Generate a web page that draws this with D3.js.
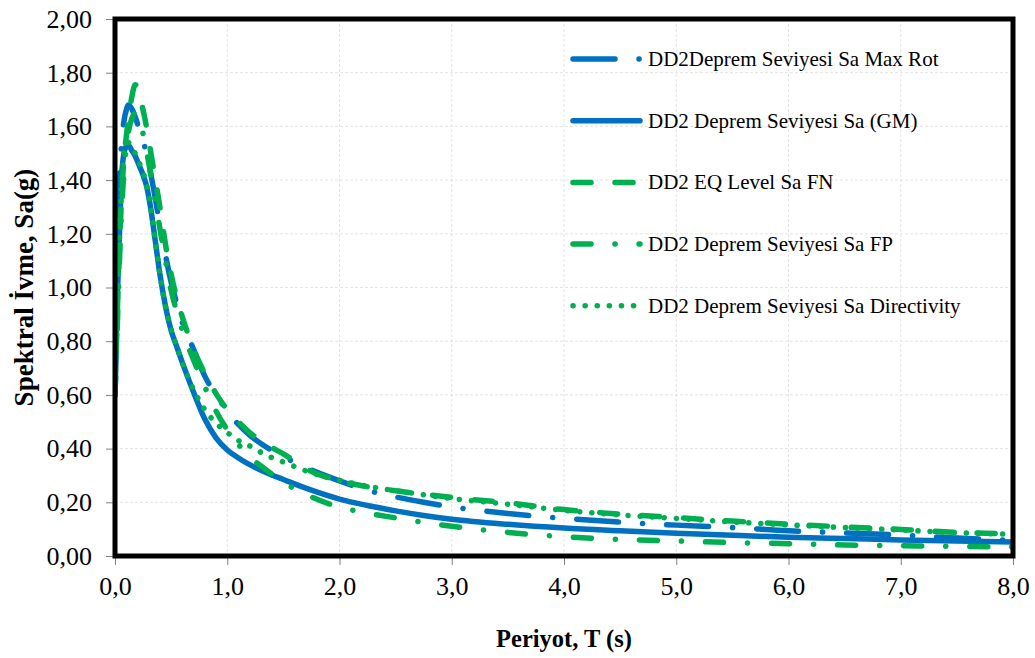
<!DOCTYPE html>
<html>
<head>
<meta charset="utf-8">
<script src="https://cdn.jsdelivr.net/npm/d3@7"></script>
<style>
  body { margin: 0; background: #fff; }
  svg { display: block; }
</style>
</head>
<body>
<svg id="chart" width="1035" height="658"></svg>
<script>
// period grid (s) shared by all five spectra
const periods = [0, 0.02, 0.04, 0.06, 0.08, 0.1, 0.12, 0.15, 0.18, 0.2, 0.24, 0.28, 0.32, 0.36, 0.4,
    0.45, 0.5, 0.55, 0.6, 0.7, 0.8, 0.9, 1.0, 1.1, 1.2, 1.35, 1.5, 1.75, 2.0, 2.25, 2.5, 2.75,
    3.0, 3.5, 4.0, 4.5, 5.0, 5.5, 6.0, 6.5, 7.0, 7.5, 8.0];

const saMaxRot = [0.60, 1.10, 1.38, 1.55, 1.62, 1.66, 1.68, 1.665, 1.635, 1.61, 1.56, 1.50, 1.42, 1.33, 1.23,
    1.12, 1.02, 0.94, 0.87, 0.77, 0.67, 0.60, 0.54, 0.49, 0.45, 0.405, 0.37, 0.32, 0.28, 0.245, 0.22, 0.20,
    0.183, 0.158, 0.14, 0.126, 0.115, 0.106, 0.094, 0.086, 0.078, 0.067, 0.058];

const saGM = [0.60, 0.95, 1.20, 1.42, 1.50, 1.525, 1.53, 1.51, 1.49, 1.47, 1.43, 1.38, 1.29, 1.17, 1.05,
    0.93, 0.84, 0.78, 0.72, 0.61, 0.51, 0.44, 0.395, 0.365, 0.34, 0.31, 0.285, 0.245, 0.212, 0.188, 0.168, 0.151,
    0.137, 0.118, 0.104, 0.094, 0.085, 0.077, 0.07, 0.065, 0.06, 0.056, 0.052];

const saFN = [0.60, 0.90, 1.15, 1.35, 1.48, 1.56, 1.63, 1.71, 1.755, 1.75, 1.68, 1.60, 1.50, 1.40, 1.30,
    1.16, 1.05, 0.96, 0.89, 0.77, 0.68, 0.605, 0.545, 0.50, 0.46, 0.415, 0.38, 0.315, 0.28, 0.258, 0.243, 0.23,
    0.218, 0.198, 0.173, 0.156, 0.143, 0.13, 0.119, 0.108, 0.099, 0.088, 0.083];

const saFP = [0.60, 0.85, 1.10, 1.30, 1.43, 1.52, 1.58, 1.63, 1.65, 1.64, 1.59, 1.51, 1.42, 1.32, 1.22,
    1.10, 0.99, 0.91, 0.84, 0.73, 0.63, 0.54, 0.47, 0.415, 0.37, 0.32, 0.275, 0.22, 0.182, 0.16, 0.142, 0.125,
    0.111, 0.088, 0.072, 0.062, 0.056, 0.05, 0.046, 0.041, 0.038, 0.036, 0.034];

const saDirectivity = [0.60, 0.92, 1.18, 1.38, 1.50, 1.53, 1.54, 1.525, 1.50, 1.48, 1.44, 1.385, 1.29, 1.17, 1.05,
    0.93, 0.845, 0.78, 0.72, 0.62, 0.545, 0.495, 0.46, 0.43, 0.41, 0.375, 0.35, 0.31, 0.282, 0.26, 0.243, 0.228,
    0.214, 0.193, 0.17, 0.153, 0.14, 0.127, 0.116, 0.106, 0.097, 0.087, 0.081];

const seriesNames = ["DD2Deprem Seviyesi Sa Max Rot", "DD2 Deprem Seviyesi Sa (GM)", "DD2 EQ Level Sa FN",
    "DD2 Deprem Seviyesi Sa FP", "DD2 Deprem Seviyesi Sa Directivity"];

const xTicks = [0, 1, 2, 3, 4, 5, 6, 7, 8];
const yTicks = [0, 0.2, 0.4, 0.6, 0.8, 1.0, 1.2, 1.4, 1.6, 1.8, 2.0];

const blue = "#0070c0", green = "#00b050";
const serif = "'Liberation Serif', 'Times New Roman', serif";
const series = [
    { name: seriesNames[0], values: saMaxRot, color: blue, dash: "42,24,0.1,24" },
    { name: seriesNames[1], values: saGM, color: blue, dash: null },
    { name: seriesNames[2], values: saFN, color: green, dash: "18,24" },
    { name: seriesNames[3], values: saFP, color: green, dash: "18,24,0.1,24" },
    { name: seriesNames[4], values: saDirectivity, color: green, dash: "0.1,12" }
];

const plotLeft = 115, plotRight = 1013, plotTop = 19, plotBottom = 556;
const svg = d3.select("#chart");

const x = d3.scaleLinear().domain([0, 8]).range([plotLeft, plotRight]);
const y = d3.scaleLinear().domain([0, 2]).range([plotBottom, plotTop]);
const comma = f => v => d3.format(f)(v).replace(".", ",");

// faint grid
svg.append("g").selectAll("line.gx")
    .data(xTicks.slice(1, -1))
    .enter().append("line")
    .attr("x1", d => x(d)).attr("x2", d => x(d))
    .attr("y1", plotTop).attr("y2", plotBottom)
    .attr("stroke", "#e4e4e4").attr("stroke-dasharray", "3,2");
svg.append("g").selectAll("line.gy")
    .data(yTicks.slice(1, -1))
    .enter().append("line")
    .attr("x1", plotLeft).attr("x2", plotRight)
    .attr("y1", d => y(d)).attr("y2", d => y(d))
    .attr("stroke", "#e4e4e4").attr("stroke-dasharray", "3,2");

// axes
const xAxis = svg.append("g")
    .attr("transform", `translate(0,${plotBottom})`)
    .call(d3.axisBottom(x).tickValues(xTicks).tickSize(9).tickPadding(12).tickFormat(comma(".1f")));
const yAxis = svg.append("g")
    .attr("transform", `translate(${plotLeft},0)`)
    .call(d3.axisLeft(y).tickValues(yTicks).tickSize(9).tickPadding(14).tickFormat(comma(".2f")));
[xAxis, yAxis].forEach(a => {
    a.attr("font-family", serif).attr("font-size", 26);
    a.select(".domain").remove();
    a.selectAll(".tick line").attr("stroke", "#808080");
    a.selectAll(".tick text").attr("fill", "#000");
});

// curves
svg.append("clipPath").attr("id", "plot")
    .append("rect").attr("x", plotLeft).attr("y", plotTop)
    .attr("width", plotRight - plotLeft).attr("height", plotBottom - plotTop);

const line = d3.line()
    .x((d, i) => x(periods[i]))
    .y(d => y(d))
    .curve(d3.curveMonotoneX);

svg.append("g").attr("clip-path", "url(#plot)")
    .selectAll("path.series")
    .data(series)
    .enter().append("path")
    .attr("class", "series")
    .attr("d", d => line(d.values))
    .attr("fill", "none")
    .attr("stroke", d => d.color)
    .attr("stroke-width", 5.5)
    .attr("stroke-linecap", "round")
    .attr("stroke-linejoin", "round")
    .attr("stroke-dasharray", d => d.dash);

// plot frame
svg.append("rect")
    .attr("x", plotLeft).attr("y", plotTop)
    .attr("width", plotRight - plotLeft).attr("height", plotBottom - plotTop)
    .attr("fill", "none").attr("stroke", "#000").attr("stroke-width", 5);

// legend
const legend = svg.append("g").selectAll("g.leg")
    .data(series)
    .enter().append("g")
    .attr("transform", (d, i) => `translate(0,${59 + i * 61.7})`);
legend.append("line")
    .attr("x1", 573).attr("x2", 640)
    .attr("stroke", d => d.color)
    .attr("stroke-width", 5.5)
    .attr("stroke-linecap", "round")
    .attr("stroke-dasharray", d => d.dash);
legend.append("text")
    .attr("x", 648).attr("y", 7)
    .attr("font-family", serif)
    .attr("font-size", 21)
    .text(d => d.name);

// axis titles
svg.append("text")
    .attr("x", (plotLeft + plotRight) / 2).attr("y", 647)
    .attr("text-anchor", "middle")
    .attr("font-family", serif)
    .attr("font-size", 24.5).attr("font-weight", "bold")
    .text("Periyot, T (s)");
svg.append("text")
    .attr("transform", `translate(33,${(plotTop + plotBottom) / 2}) rotate(-90)`)
    .attr("text-anchor", "middle")
    .attr("font-family", serif)
    .attr("font-size", 27).attr("font-weight", "bold")
    .text("Spektral İvme, Sa(g)");
</script>
</body>
</html>
